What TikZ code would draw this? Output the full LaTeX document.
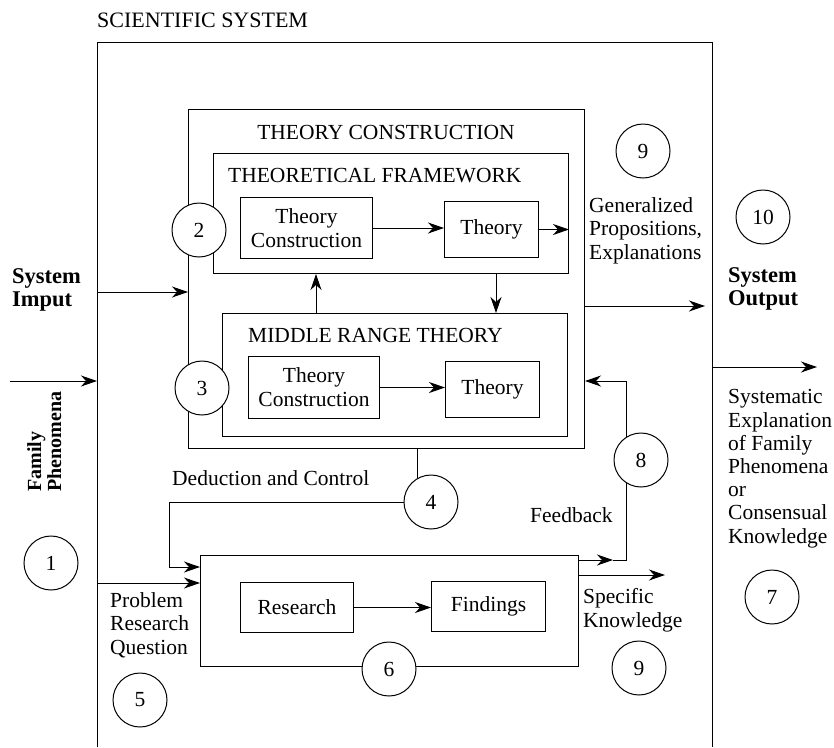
\documentclass[tikz,border=0pt]{standalone}
\usepackage{fontspec}
\setmainfont{Liberation Serif}
\usetikzlibrary{arrows.meta,backgrounds}
\newcommand\myfs{\fontsize{21.5}{24}\selectfont}
\begin{document}
\begin{tikzpicture}[x=1pt,y=-1pt,
  box/.style={draw, line width=1pt, inner sep=0pt, anchor=north west, align=center, font=\myfs},
  lbl/.style={inner sep=0pt, anchor=base west, font=\myfs, align=left},
  num/.style={draw, circle, fill=white, minimum size=54pt, inner sep=0pt, line width=1pt, font=\myfs},
  arr/.style={line width=1pt, -{Stealth[length=16pt,width=11pt,inset=5pt]}},
  ln/.style={line width=1pt}]
\useasboundingbox (0,0) rectangle (834,747);

% outer system
\coordinate (oBL) at (97,747);
\coordinate (oTL) at (97,42);
\coordinate (oTR) at (712,42);
\coordinate (oBR) at (712,747);
\draw[ln] (oBL) -- (oTL) -- (oTR) -- (oBR);
\node[lbl, font=\fontsize{22}{24}\selectfont] (title) at (97,27) {SCIENTIFIC SYSTEM};

% theory construction
\node[box, minimum width=396pt, minimum height=339pt] (tc) at (188,109) {};
\node[lbl, anchor=base] (tct) at (386,139) {THEORY CONSTRUCTION};

\node[box, minimum width=355pt, minimum height=120pt] (tf) at (213,153) {};
\node[lbl] (tft) at (228,182) {THEORETICAL FRAMEWORK};
\node[box, minimum width=132pt, minimum height=61pt] (tfc) at (240,197) {Theory\\Construction};
\node[box, minimum width=94pt, minimum height=56pt] (tfth) at (444,201) {Theory};

\node[box, minimum width=345pt, minimum height=123pt] (mr) at (222,313) {};
\node[lbl] (mrt) at (248,342) {MIDDLE RANGE THEORY};
\node[box, minimum width=131pt, minimum height=62pt] (mrc) at (248,356) {Theory\\Construction};
\node[box, minimum width=94pt, minimum height=56pt] (mrth) at (445,361) {Theory};

% research
\node[box, minimum width=378pt, minimum height=111pt] (rb) at (200,555) {};
\node[box, minimum width=113pt, minimum height=50pt] (res) at (240,582) {Research};
\node[box, minimum width=114pt, minimum height=50pt] (fin) at (431,581) {Findings};

% numbered circles
\node[num] (c1) at (51,563) {1};
\node[num] (c2) at (199,230) {2};
\node[num] (c3) at (202,388) {3};
\node[num] (c4) at (431,502) {4};
\node[num] (c5) at (140,700) {5};
\node[num] (c6) at (389,669) {6};
\node[num] (c7) at (772,597) {7};
\node[num] (c8) at (641,460) {8};
\node[num] (c9a) at (643,151) {9};
\node[num] (c9b) at (639,668) {9};
\node[num] (c10) at (763,217) {10};

% coordinates for connectors
\coordinate (ua) at (316,0);
\coordinate (da) at (496,0);
\coordinate (d4) at (417,0);
\coordinate (dk) at (169,567);
\coordinate (pq) at (97,583);
\coordinate (fbt) at (613,560);
\coordinate (fb) at (626,560);
\coordinate (fb2) at (626,381);
\coordinate (sk) at (665,575);
\coordinate (go) at (705,306);
\coordinate (so) at (817,367);
\coordinate (si) at (97,292);
\coordinate (fp) at (10,381);

\begin{scope}[on background layer]
\draw[arr] (tfc.east) -- (tfth.west |- tfc.east);
\draw[arr] (tfth.east) -- (tfth.east -| tf.east);
\draw[arr] (mrc.east) -- (mrth.west |- mrc.east);
\draw[arr] (mr.north -| ua) -- (tf.south -| ua);
\draw[arr] (tf.south -| da) -- (mr.north -| da);
\draw[arr] (res.east) -- (fin.west |- res.east);
\draw[ln] (tc.south -| d4) -- (d4 |- c4.center);
\draw[arr] (c4.center) -| (dk) -- (dk -| rb.west);
\draw[arr] (pq) -- (pq -| rb.west);
\draw[arr] (rb.east |- fb) -- (fbt);
\draw[ln] (fbt) -- (fb) -- (fb |- c8.center);
\draw[arr] (fb2 |- c8.center) -- (fb2) -- (fb2 -| tc.east);
\draw[arr] (rb.east |- sk) -- (sk);
\draw[arr] (tc.east |- go) -- (go);
\draw[arr] (oTR |- so) -- (so);
\draw[arr] (si) -- (si -| tc.west);
\draw[arr] (fp) -- (fp -| oTL);
\end{scope}

% labels (base anchor = baseline of the last line)
\node[lbl, font=\fontsize{22.5}{23}\selectfont\bfseries] (sysin) at (12,306) {System\\Imput};
\node[lbl, font=\fontsize{20}{20}\selectfont\bfseries, rotate=90, anchor=north west] (fam) at (27,492) {Family\\Phenomena};
\node[lbl, font=\fontsize{22.5}{23}\selectfont\bfseries] (sysout) at (728,305) {System\\Output};
\node[lbl, font=\fontsize{21.5}{23.3}\selectfont] (gen) at (589,259) {Generalized\\Propositions,\\Explanations};
\node[lbl, font=\fontsize{21.5}{23.2}\selectfont] (sys) at (728,543) {Systematic\\Explanation\\of Family\\Phenomena\\or\\Consensual\\Knowledge};
\node[lbl, font=\fontsize{21.5}{23.5}\selectfont] (prob) at (110,654) {Problem\\Research\\Question};
\node[lbl] (ded) at (172,485) {Deduction and Control};
\node[lbl] (feed) at (530,522) {Feedback};
\node[lbl] (spec) at (583,627) {Specific\\Knowledge};
\end{tikzpicture}
\end{document}
